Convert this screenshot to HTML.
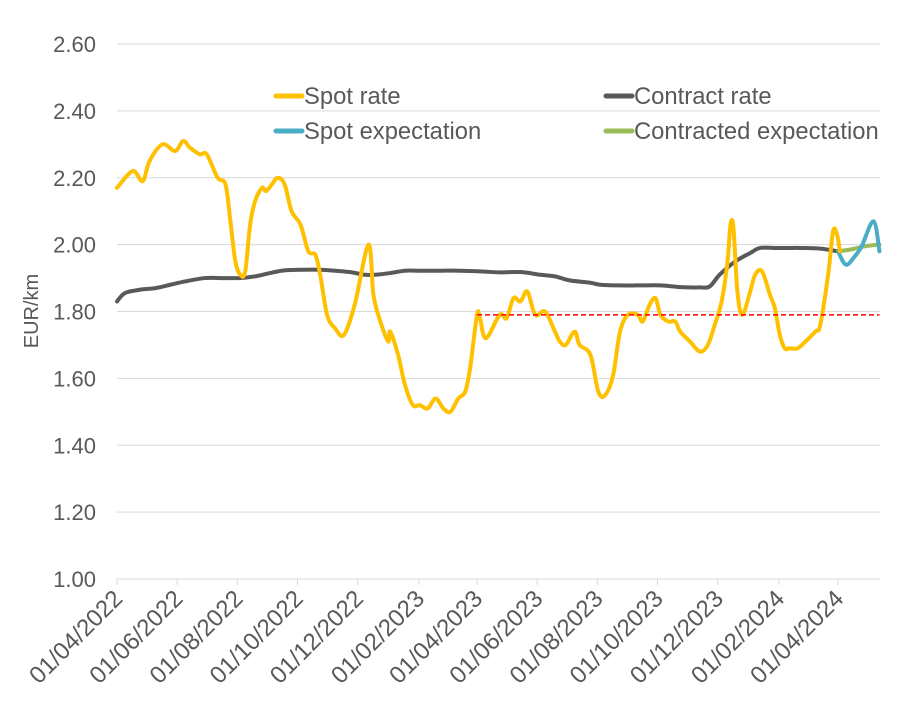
<!DOCTYPE html>
<html><head><meta charset="utf-8"><style>
html,body{margin:0;padding:0;background:#fff;}
svg{display:block;font-family:"Liberation Sans",Arial,sans-serif;}
</style></head><body>
<svg id="chart" width="914" height="723"></svg>
<script>
const startDate = "2022-04-01";
const xTickLabels = ["01/04/2022","01/06/2022","01/08/2022","01/10/2022","01/12/2022","01/02/2023","01/04/2023","01/06/2023","01/08/2023","01/10/2023","01/12/2023","01/02/2024","01/04/2024"];
const xTickDays = [0,61,122,183,244,306,365,426,487,548,609,671,731];
const yTicks = [1.00,1.20,1.40,1.60,1.80,2.00,2.20,2.40,2.60];
const spotDays = [0,16,26,33,46,59,67,74,84,91,102,110,115,120,125,130,135,140,147,151,157,163,170,177,186,194,201,206,213,221,230,241,255,260,267,275,277,285,292,300,307,315,323,331,338,346,353,358,365,368,374,388,395,402,409,416,424,434,444,449,455,464,469,480,488,495,503,510,518,528,533,540,546,551,559,566,571,581,591,599,606,613,619,622,625,629,634,642,647,654,662,667,672,677,682,690,698,708,713,721,726,730,733];
const spotValues = [2.17,2.22,2.19,2.25,2.30,2.28,2.31,2.29,2.27,2.27,2.20,2.18,2.07,1.95,1.91,1.92,2.06,2.13,2.17,2.16,2.18,2.20,2.18,2.10,2.06,1.98,1.97,1.91,1.79,1.75,1.73,1.82,2.00,1.85,1.77,1.71,1.74,1.67,1.58,1.52,1.52,1.51,1.54,1.51,1.50,1.54,1.56,1.63,1.79,1.78,1.72,1.79,1.78,1.84,1.83,1.86,1.79,1.80,1.74,1.71,1.70,1.74,1.70,1.67,1.56,1.55,1.61,1.74,1.79,1.79,1.77,1.82,1.84,1.79,1.77,1.77,1.74,1.71,1.68,1.70,1.76,1.83,1.95,2.06,2.05,1.86,1.79,1.86,1.91,1.92,1.85,1.81,1.73,1.69,1.69,1.69,1.71,1.74,1.76,1.91,2.04,2.03,1.98];
const contractDays = [0,8,23,39,54,69,89,104,125,140,155,170,191,206,221,236,251,262,277,292,307,328,348,368,388,409,429,444,459,480,490,510,530,551,571,591,601,611,627,642,652,667,682,693,713,731];
const contractValues = [1.83,1.855,1.865,1.87,1.88,1.89,1.90,1.90,1.90,1.905,1.915,1.923,1.925,1.925,1.922,1.918,1.91,1.91,1.915,1.922,1.922,1.922,1.922,1.92,1.917,1.918,1.91,1.905,1.893,1.886,1.88,1.878,1.878,1.878,1.873,1.872,1.875,1.91,1.95,1.975,1.99,1.99,1.99,1.99,1.988,1.98];
const spotExpDays = [731,739,748,755,767,773];
const spotExpValues = [1.98,1.94,1.965,1.995,2.07,1.98];
const contractExpDays = [731,743,758,773];
const contractExpValues = [1.98,1.985,1.995,2.00];
const refLineDays = [365,773];
const refLineValue = 1.79;

const NS="http://www.w3.org/2000/svg";
const svg=document.getElementById('chart');
const X0=117,X1=838,Y0=579,Y1=44;
const xs=d=>X0+d*(X1-X0)/731;
const ys=v=>Y0-(v-1.0)*(Y0-Y1)/1.6;
function el(t,a,p){const e=document.createElementNS(NS,t);for(const k in a)e.setAttribute(k,a[k]);(p||svg).appendChild(e);return e;}
function smooth(pts){let d=`M${pts[0][0]},${pts[0][1]}`;for(let i=0;i<pts.length-1;i++){const p0=pts[i-1]||pts[i],p1=pts[i],p2=pts[i+1],p3=pts[i+2]||p2;const t=1/6;d+=` C${p1[0]+(p2[0]-p0[0])*t},${p1[1]+(p2[1]-p0[1])*t} ${p2[0]-(p3[0]-p1[0])*t},${p2[1]-(p3[1]-p1[1])*t} ${p2[0]},${p2[1]}`;}return d;}

yTicks.forEach(v=>{
  if(v>1.0){const g=el('line',{x1:X0,x2:880,y1:ys(v),y2:ys(v),stroke:'#d9d9d9','stroke-width':1});
  
  }
  const t=el('text',{x:96,y:ys(v)+8,'text-anchor':'end','font-size':22,fill:'#595959'});
  t.textContent=v.toFixed(2);
  
  
});
const ax=el('line',{x1:X0,x2:880,y1:Y0,y2:Y0,stroke:'#d9d9d9','stroke-width':1});


xTickDays.forEach((d,i)=>{
  const tk=el('line',{x1:xs(d),x2:xs(d),y1:Y0,y2:Y0+6,stroke:'#d9d9d9'});
  
  
  const ax_=xs(d)+7, ay_=Y0+21;
  const t=el('text',{x:ax_,y:ay_,'text-anchor':'end','font-size':24,fill:'#595959',transform:`rotate(-45 ${ax_} ${ay_})`});
  t.textContent=xTickLabels[i];
  
  
});
const yt=el('text',{x:38,y:311,'text-anchor':'middle','font-size':20,fill:'#595959',transform:'rotate(-90 38 311)'});
yt.textContent='EUR/km';



function series(days,vals,color,name){
  const p=el('path',{d:smooth(days.map((d,i)=>[xs(d),ys(vals[i])])),fill:'none',stroke:color,'stroke-width':4,'stroke-linejoin':'round','stroke-linecap':'round'});
  
  
}
series(contractDays,contractValues,'#595959','contract-rate-line');
series(contractExpDays,contractExpValues,'#9bbb59','contracted-expectation-line');
series(spotExpDays,spotExpValues,'#4bacc6','spot-expectation-line');
series(spotDays,spotValues,'#ffc000','spot-rate-line');
const rl=el('line',{x1:xs(refLineDays[0]),x2:xs(refLineDays[1]),y1:ys(refLineValue),y2:ys(refLineValue),stroke:'#ff0000','stroke-width':1.5,'stroke-dasharray':'5,3'});



const legend=[["Spot rate",'#ffc000',274,96],["Contract rate",'#595959',604,96],["Spot expectation",'#4bacc6',274,131],["Contracted expectation",'#9bbb59',604,131]];
legend.forEach(l=>{
  const g=el('g',{});
  
  
  el('line',{x1:l[2]+2,x2:l[2]+28,y1:l[3],y2:l[3],stroke:l[1],'stroke-width':5,'stroke-linecap':'round'},g);
  const t=el('text',{x:l[2]+30,y:l[3]+8,'font-size':23.8,fill:'#595959'},g);
  t.textContent=l[0];
});
</script>
</body></html>
